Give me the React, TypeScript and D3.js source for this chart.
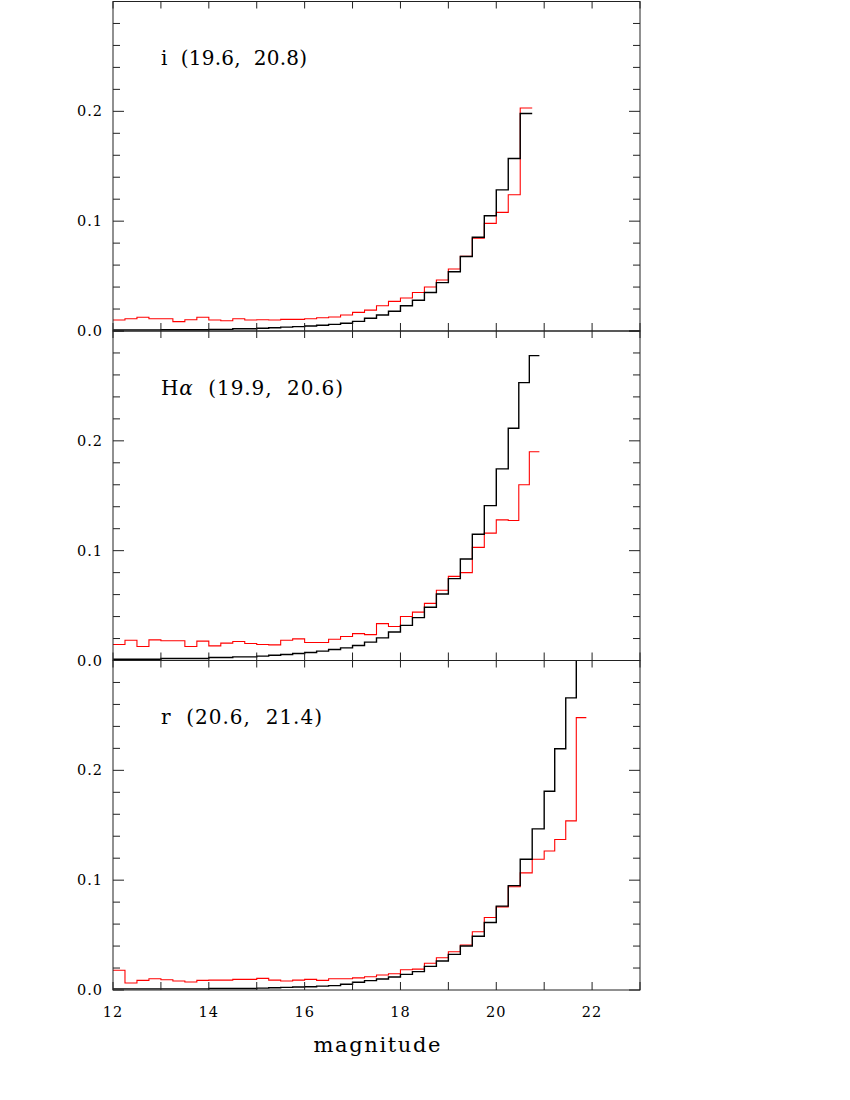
import { useEffect, useRef } from 'react'
import * as d3 from 'd3'

// bin edges (magnitude) - the faint end bins are narrower
const edgesI = [12, 12.25, 12.5, 12.75, 13, 13.25, 13.5, 13.75, 14, 14.25, 14.5, 14.75, 15, 15.25, 15.5, 15.75,
  16, 16.25, 16.5, 16.75, 17, 17.25, 17.5, 17.75, 18, 18.25, 18.5, 18.75, 19, 19.25, 19.5, 19.75,
  20, 20.25, 20.5, 20.75]
const edgesHa = [12, 12.25, 12.5, 12.75, 13, 13.25, 13.5, 13.75, 14, 14.25, 14.5, 14.75, 15, 15.25, 15.5, 15.75,
  16, 16.25, 16.5, 16.75, 17, 17.25, 17.5, 17.75, 18, 18.25, 18.5, 18.75, 19, 19.25, 19.5, 19.75,
  20, 20.25, 20.47, 20.69, 20.9]
const edgesR = [12, 12.25, 12.5, 12.75, 13, 13.25, 13.5, 13.75, 14, 14.25, 14.5, 14.75, 15, 15.25, 15.5, 15.75,
  16, 16.25, 16.5, 16.75, 17, 17.25, 17.5, 17.75, 18, 18.25, 18.5, 18.75, 19, 19.25, 19.5, 19.75,
  20, 20.25, 20.5, 20.75, 21, 21.22, 21.45, 21.67, 21.88]

// fractions per bin, black and red histograms
const blackI = [0.001, 0.001, 0.001, 0.001, 0.0012, 0.0012, 0.0012, 0.0012, 0.0015, 0.0015, 0.002, 0.002,
  0.0025, 0.003, 0.0035, 0.004, 0.0045, 0.0052, 0.006, 0.007, 0.0088, 0.0116, 0.0146, 0.018,
  0.023, 0.028, 0.035, 0.044, 0.054, 0.0678, 0.0854, 0.105, 0.1285, 0.157, 0.198]
const redI = [0.010, 0.0112, 0.0125, 0.0112, 0.0112, 0.0085, 0.0103, 0.0125, 0.010, 0.0094, 0.0112, 0.010,
  0.0103, 0.010, 0.0106, 0.0106, 0.0112, 0.012, 0.0127, 0.0145, 0.017, 0.019, 0.023, 0.027,
  0.030, 0.035, 0.040, 0.0465, 0.0565, 0.068, 0.0845, 0.098, 0.108, 0.124, 0.203]

const blackHa = [0.0012, 0.0012, 0.0012, 0.0012, 0.0018, 0.0018, 0.0018, 0.0018, 0.0027, 0.0027, 0.0033, 0.0033,
  0.004, 0.0048, 0.0055, 0.0064, 0.0073, 0.0085, 0.010, 0.0115, 0.0136, 0.0167, 0.0206, 0.026,
  0.032, 0.039, 0.0485, 0.0606, 0.0745, 0.0924, 0.115, 0.141, 0.1745, 0.2115, 0.253, 0.2776]
const redHa = [0.0145, 0.0185, 0.0127, 0.0188, 0.018, 0.018, 0.0127, 0.0176, 0.0133, 0.0158, 0.0173, 0.0155,
  0.0145, 0.0142, 0.0185, 0.0197, 0.0164, 0.0164, 0.0194, 0.0218, 0.0245, 0.0236, 0.0336, 0.031,
  0.040, 0.044, 0.052, 0.064, 0.0766, 0.080, 0.103, 0.116, 0.128, 0.1275, 0.160, 0.190]

const blackR = [0.001, 0.001, 0.001, 0.001, 0.001, 0.001, 0.001, 0.001, 0.0013, 0.0013, 0.0013, 0.0013,
  0.0017, 0.002, 0.0024, 0.0027, 0.003, 0.0035, 0.004, 0.0052, 0.007, 0.0085, 0.010, 0.0118,
  0.0142, 0.0167, 0.0215, 0.0264, 0.0324, 0.040, 0.049, 0.0615, 0.0764, 0.095, 0.119, 0.1467,
  0.181, 0.2197, 0.266, 0.33]
const redR = [0.018, 0.0064, 0.0088, 0.0103, 0.0094, 0.0082, 0.0073, 0.0088, 0.009, 0.009, 0.0097, 0.0097,
  0.0106, 0.009, 0.0082, 0.009, 0.0097, 0.0088, 0.0103, 0.0103, 0.011, 0.012, 0.0136, 0.0148,
  0.0185, 0.019, 0.0243, 0.0294, 0.0348, 0.041, 0.053, 0.066, 0.0757, 0.094, 0.1066, 0.119,
  0.1266, 0.137, 0.154, 0.248]

const bands = ['i', 'H', 'r']
const bandRanges = ['(19.6, 20.8)', '(19.9, 20.6)', '(20.6, 21.4)']
const yTickLabels = ['0.0', '0.1', '0.2']
const xTickLabels = [12, 14, 16, 18, 20, 22]

export default function App() {
  const canvas = useRef(null)

  useEffect(() => {
    drawChart()
  }, [])

  const drawChart = () => {
    const width = 850
    const height = 1100
    const left = 113
    const right = 640
    const panelH = 329.5
    const bottoms = [331, 660.5, 990]
    const labelWidths = [146, 182, 161]
    const serif = "'DejaVu Serif', 'Liberation Serif', serif"

    d3.select(canvas.current).selectAll('*').remove()
    const svg = d3.select(canvas.current)
      .append('svg')
      .attr('width', width)
      .attr('height', height)
      .style('position', 'absolute')
      .style('top', 0)
      .style('left', 0)
      .style('background', 'white')

    const x = d3.scaleLinear().domain([12, 23]).range([left, right])

    const panels = [
      { edges: edgesI, black: blackI, red: redI },
      { edges: edgesHa, black: blackHa, red: redHa },
      { edges: edgesR, black: blackR, red: redR }
    ]

    panels.forEach((p, i) => {
      const bottom = bottoms[i]
      const top = bottom - panelH
      const y = d3.scaleLinear().domain([0, 0.3]).range([bottom, top])
      const g = svg.append('g')

      svg.append('clipPath').attr('id', `clip${i}`)
        .append('rect')
        .attr('x', left).attr('y', top)
        .attr('width', right - left).attr('height', panelH)

      const stepLine = d3.line()
        .x(d => x(d[0]))
        .y(d => y(d[1]))
        .curve(d3.curveStepAfter)

      const pts = (vals) => {
        const arr = vals.map((v, k) => [p.edges[k], v])
        arr.push([p.edges[vals.length], vals[vals.length - 1]])
        return arr
      }

      g.append('path')
        .attr('d', stepLine(pts(p.red)))
        .attr('fill', 'none')
        .attr('stroke', '#ff0000')
        .attr('stroke-width', 1.1)
        .attr('clip-path', `url(#clip${i})`)

      g.append('path')
        .attr('d', stepLine(pts(p.black)))
        .attr('fill', 'none')
        .attr('stroke', '#000')
        .attr('stroke-width', 1.4)
        .attr('clip-path', `url(#clip${i})`)

      // frame
      g.append('rect')
        .attr('x', left).attr('y', top)
        .attr('width', right - left).attr('height', panelH)
        .attr('fill', 'none')
        .attr('stroke', '#222')
        .attr('stroke-width', 1)

      // x ticks, inward on bottom and top
      d3.range(12, 23.5, 1).forEach(t => {
        g.append('line')
          .attr('x1', x(t)).attr('x2', x(t))
          .attr('y1', bottom).attr('y2', bottom - 8)
          .attr('stroke', '#222')
        g.append('line')
          .attr('x1', x(t)).attr('x2', x(t))
          .attr('y1', top).attr('y2', top + 7)
          .attr('stroke', '#222')
      })

      // y ticks, inward on left and right
      d3.range(0, 16).forEach(k => {
        const v = k * 0.02
        const len = k % 5 === 0 ? 11 : 7
        g.append('line')
          .attr('x1', left).attr('x2', left + len)
          .attr('y1', y(v)).attr('y2', y(v))
          .attr('stroke', '#222')
        g.append('line')
          .attr('x1', right).attr('x2', right - len)
          .attr('y1', y(v)).attr('y2', y(v))
          .attr('stroke', '#222')
      })

      yTickLabels.forEach((lab, k) => {
        g.append('text')
          .attr('x', 103)
          .attr('y', y(k * 0.1) + 5)
          .attr('text-anchor', 'end')
          .attr('font-family', serif)
          .attr('font-size', 14.5)
          .attr('letter-spacing', 1)
          .text(lab)
      })

      const label = g.append('text')
        .attr('x', 161)
        .attr('y', top + 63.5)
        .attr('font-family', serif)
        .attr('font-size', 20)
        .attr('textLength', labelWidths[i])
        .attr('lengthAdjust', 'spacing')
      if (bands[i] === 'H') {
        label.append('tspan').text('H')
        label.append('tspan').attr('font-style', 'italic').text('\u03b1')
      } else {
        label.append('tspan').text(bands[i])
      }
      label.append('tspan').text('\u00a0\u00a0' + bandRanges[i].replace(', ', ',\u00a0\u00a0'))
    })

    xTickLabels.forEach(t => {
      svg.append('text')
        .attr('x', x(t))
        .attr('y', 1017)
        .attr('text-anchor', 'middle')
        .attr('font-family', serif)
        .attr('font-size', 14.5)
        .attr('letter-spacing', 1)
        .text(t)
    })

    svg.append('text')
      .attr('x', x(17.5) - 63)
      .attr('y', 1052)
      .attr('font-family', serif)
      .attr('font-size', 21)
      .attr('textLength', 127)
      .attr('lengthAdjust', 'spacing')
      .text('magnitude')
  }

  return (
    <div className='chart'>
      <div ref={canvas}></div>
    </div>
  )
}
